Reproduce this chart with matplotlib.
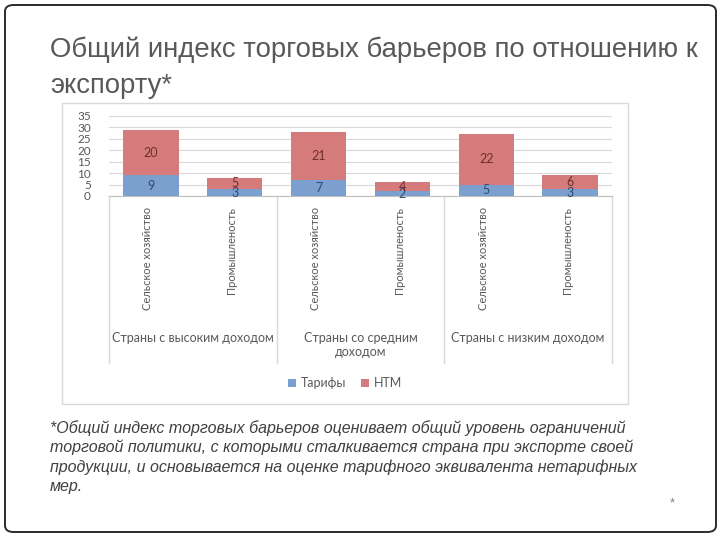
"""Общий индекс торговых барьеров: stacked bars on a slide-like canvas."""

import matplotlib

matplotlib.use("Agg")
import matplotlib.pyplot as plt
from matplotlib.patches import FancyBboxPatch, Rectangle
import numpy as np

# data
groups = ["Страны с высоким доходом", "Страны со средним\nдоходом", "Страны с низким доходом"]
sectors = ["Сельское хозяйство", "Промышленость"]
tariffs = [9, 3, 7, 2, 5, 3]
ntm = [20, 5, 21, 4, 22, 6]
series_names = ["Тарифы", "НТМ"]
yticks = [0, 5, 10, 15, 20, 25, 30, 35]

title = "Общий индекс торговых барьеров по отношению к\nэкспорту*"
footnote = ("*Общий индекс торговых барьеров оценивает общий уровень ограничений\n"
            "торговой политики, с которыми сталкивается страна при экспорте своей\n"
            "продукции, и основывается на оценке тарифного эквивалента нетарифных\n"
            "мер.")

BLUE = "#7ba0d0"
RED = "#d67b7b"
NARROW = ["Liberation Sans Narrow", "Liberation Sans", "DejaVu Sans"]
CHART = ["Lato", "DejaVu Sans"]

W, H = 720, 540
fig = plt.figure(figsize=(7.2, 5.4), dpi=100)


def fx(px):
    return px / W


def fy(py):
    return 1 - py / H


# slide frame
fig.patches.append(FancyBboxPatch((fx(5), fy(532)), fx(711), 527 / H,
                                  boxstyle="round,pad=0,rounding_size=0.012",
                                  transform=fig.transFigure, fill=False,
                                  edgecolor="#2b2b2b", linewidth=1.4))
# chart box
fig.patches.append(Rectangle((fx(62), fy(404)), fx(566), 301 / H,
                             transform=fig.transFigure, fill=False,
                             edgecolor="#d9d9d9", linewidth=1.0))

fig.text(fx(50), fy(68), title, fontsize=19.8, color="#595959", family=NARROW,
         ha="left", va="center", linespacing=1.5)
fig.text(fx(50), fy(457), footnote, fontsize=11.5, color="#404040", family=NARROW,
         style="italic", ha="left", va="center", linespacing=1.33)
fig.text(fx(672), fy(503), "*", fontsize=9, color="#7f7f7f", family=NARROW,
         ha="center", va="center")

ax = fig.add_axes([fx(109), fy(196), fx(612 - 109), 80 / H])
x = np.arange(len(tariffs))
b1 = ax.bar(x, tariffs, width=0.66, color=BLUE, zorder=3)
b2 = ax.bar(x, ntm, width=0.66, bottom=tariffs, color=RED, zorder=3)

for i in x:
    ax.text(i, tariffs[i] / 2, str(tariffs[i]), ha="center", va="center",
            fontsize=9, color="#2e4a72", family=CHART, zorder=4)
    ax.text(i, tariffs[i] + ntm[i] / 2, str(ntm[i]), ha="center", va="center",
            fontsize=9, color="#6e2f2f", family=CHART, zorder=4)

ax.set_xlim(-0.5, len(tariffs) - 0.5)
ax.set_ylim(0, 35)
ax.set_yticks(yticks)
ax.set_yticklabels([str(t) for t in yticks], fontsize=8.5, color="#595959", family=CHART)
ax.tick_params(axis="y", length=0, pad=13)
ax.set_xticks([])
ax.grid(axis="y", color="#d9d9d9", linewidth=0.8, zorder=0)
for s in ["top", "right", "left"]:
    ax.spines[s].set_visible(False)
ax.spines["bottom"].set_color("#bfbfbf")

# category labels
trans = ax.get_xaxis_transform()
for i in x:
    ax.annotate(sectors[i % len(sectors)], xy=(i, 0), xycoords=trans,
                xytext=(-3, -11), textcoords="offset pixels",
                rotation=90, ha="center", va="top", fontsize=8,
                color="#595959", family=CHART, annotation_clip=False)
n = len(sectors)
for g, name in enumerate(groups):
    ax.annotate(name, xy=(g * n + (n - 1) / 2, 0), xycoords=trans,
                xytext=(0, -136), textcoords="offset pixels",
                ha="center", va="top", fontsize=9, color="#595959",
                family=CHART, annotation_clip=False, linespacing=1.2)
for b in np.arange(len(groups) + 1) * n - 0.5:
    ax.plot([b, b], [0, -167 / 80], transform=trans, color="#d9d9d9",
            linewidth=1.0, clip_on=False)

leg = fig.legend([b1, b2], series_names, loc="center", bbox_to_anchor=(fx(345), fy(383)),
                 ncol=2, frameon=False, handlelength=0.6, handleheight=0.6,
                 handletextpad=0.4, columnspacing=1.2,
                 prop={"family": CHART, "size": 9})
for t in leg.get_texts():
    t.set_color("#595959")

fig.savefig("out.png", dpi=100)
